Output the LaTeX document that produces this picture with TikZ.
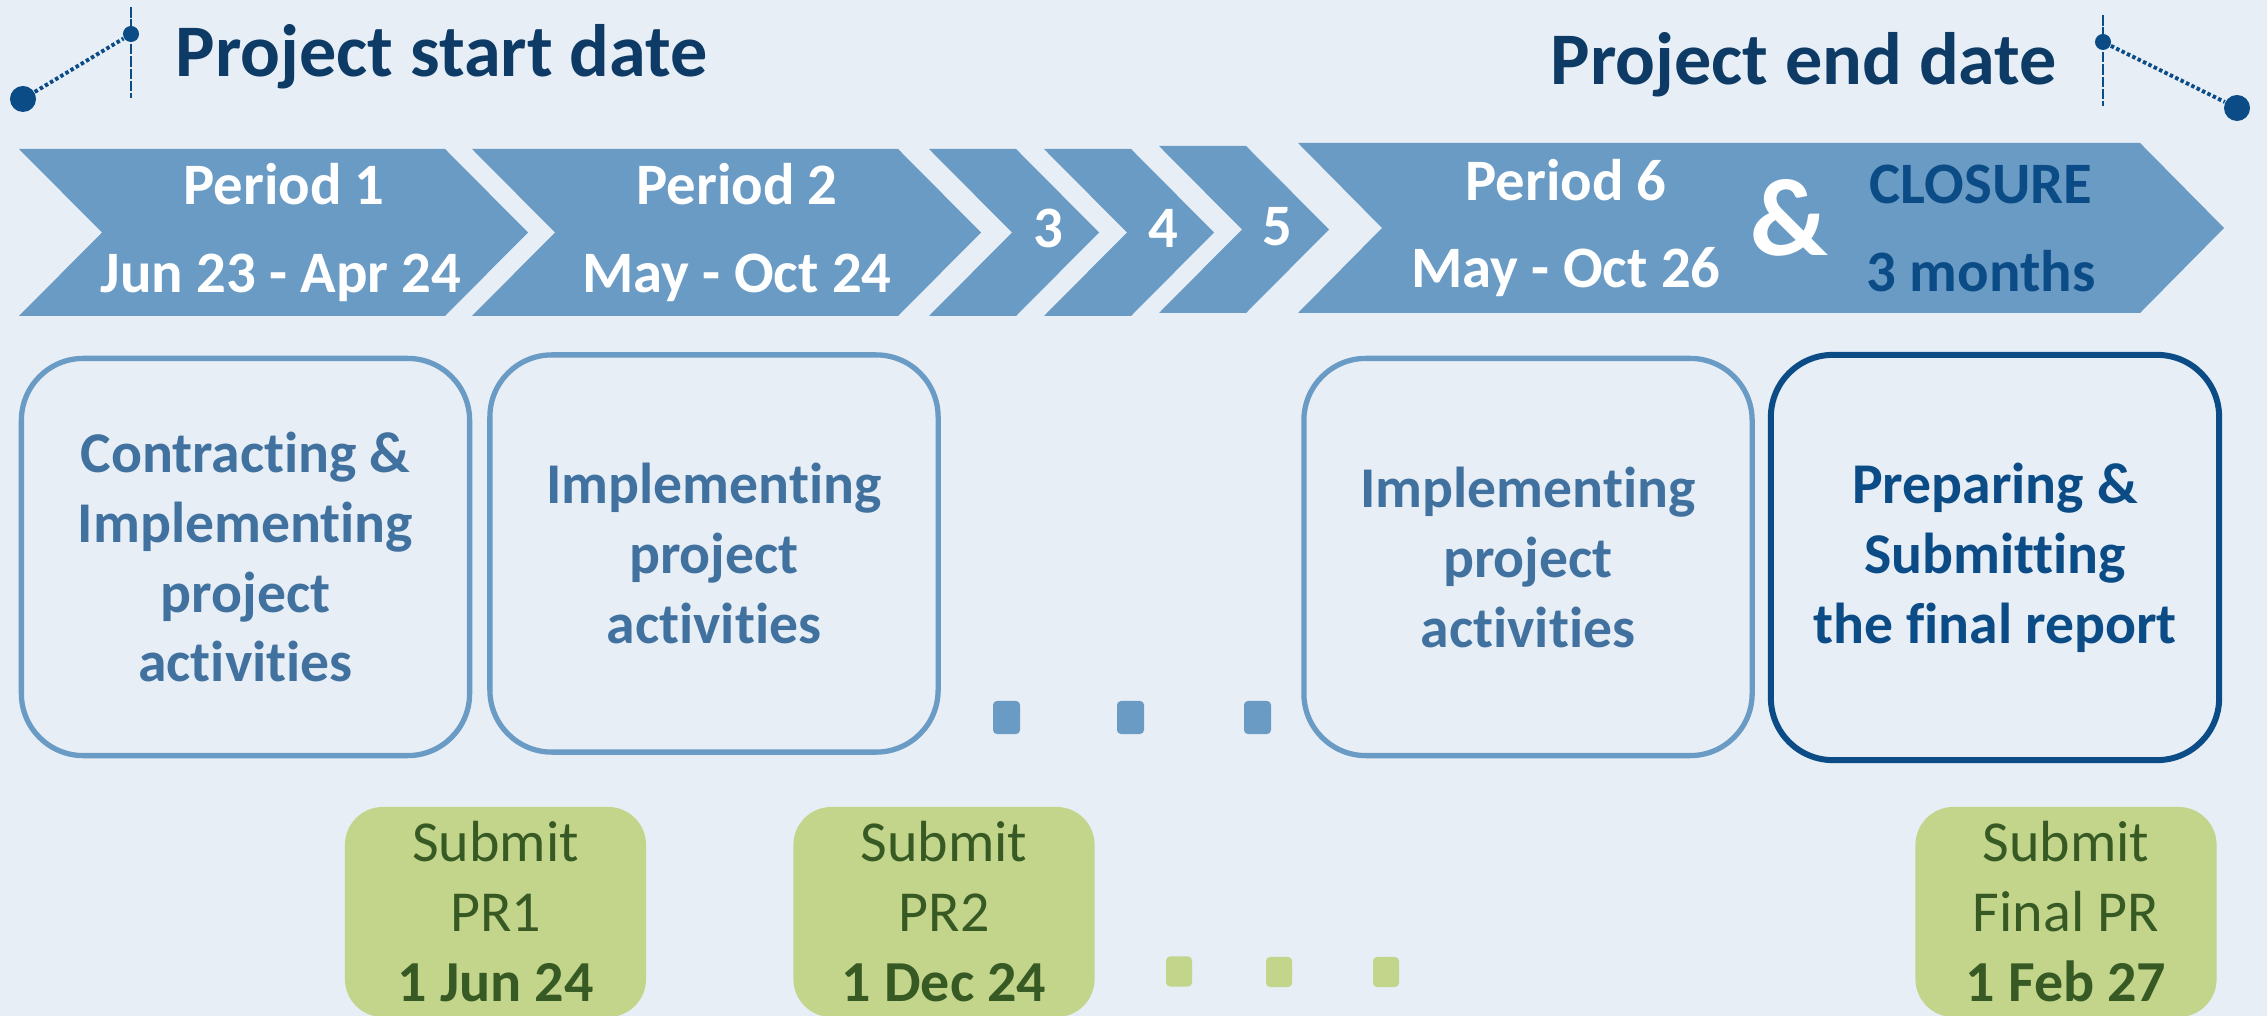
\documentclass[tikz,border=0pt]{standalone}
\usepackage{fontspec}
\setmainfont{Carlito}[Ligatures=NoCommon]
\definecolor{bg}{HTML}{E7EEF6}
\definecolor{chev}{HTML}{6A9BC4}
\definecolor{boxtxt}{HTML}{41729F}
\definecolor{dark}{HTML}{0B4C87}
\definecolor{title}{HTML}{0D3B66}
\definecolor{gfill}{HTML}{C3D58B}
\definecolor{gtxt}{HTML}{375A25}
\newcommand\mychev[5]{\fill[chev] (#1,#3) -- (#2,#3) -- ({#2+#5},{(#3+#4)/2}) -- (#2,#4) -- (#1,#4) -- ({#1+#5},{(#3+#4)/2}) -- cycle;}
\begin{document}
\begin{tikzpicture}[x=0.01cm,y=-0.01cm,
  ttext/.style={text=title,font=\fontsize{21.1}{25}\selectfont\bfseries,inner sep=0,anchor=base west},
  ctext/.style={text=white,font=\fontsize{16.7}{20}\selectfont\bfseries,inner sep=0,anchor=base},
  dtext/.style={text=dark,font=\fontsize{16.7}{20}\selectfont\bfseries,inner sep=0,anchor=base},
  lbox/.style={draw=chev,line width=1.5pt,rounded corners=0.62cm,align=center,text=boxtxt,
    font=\fontsize{16.4}{19.9}\selectfont\bfseries,minimum width=4.48cm,minimum height=3.97cm,inner sep=0},
  dbox/.style={lbox,draw=dark,line width=1.7pt,text=dark,minimum height=4.05cm},
  gbox/.style={fill=gfill,rounded corners=0.38cm,align=center,text=gtxt,
    font=\fontsize{16.5}{19.9}\selectfont,minimum width=3.01cm,minimum height=2.10cm,inner sep=0},
  bsq/.style={fill=chev,rounded corners=0.04cm,minimum width=0.27cm,minimum height=0.33cm,inner sep=0},
  gsq/.style={fill=gfill,rounded corners=0.04cm,minimum width=0.26cm,minimum height=0.30cm,inner sep=0},
  bigdot/.style={circle,fill=dark,inner sep=0,minimum size=0.26cm},
  smalldot/.style={circle,fill=dark,inner sep=0,minimum size=0.16cm},
  vline/.style={draw=dark,line width=0.6pt,dash pattern=on 3pt off 0.5pt},
  dotline/.style={draw=dark,line width=1.1pt,dash pattern=on 1pt off 0.7pt}]
\useasboundingbox (0,0) rectangle (2267,1016);
\fill[bg] (0,0) rectangle (2267,1016);
\clip (0,0) rectangle (2267,1016);

% titles and icons
\node[ttext] (t1) at (175,77) {Project start date};
\node[ttext] (t2) at (1550,85) {Project end date};
\coordinate (sv1) at (131,7); \coordinate (sv2) at (131,98);
\draw[vline] (sv1) -- (sv2);
\node[bigdot] (sd1) at (23,99) {};
\node[smalldot] (sd2) at (131,34) {};
\draw[dotline] (sd1) -- (sd2);
\coordinate (ev1) at (2103,15); \coordinate (ev2) at (2103,106);
\draw[vline] (ev1) -- (ev2);
\node[smalldot] (ed2) at (2103,42) {};
\node[bigdot] (ed1) at (2237,108) {};
\draw[dotline] (ed2) -- (ed1);

% chevrons
\mychev{19}{445}{149}{316}{83}
\mychev{472}{898}{149}{316}{83}
\mychev{929}{1016}{149}{316}{83}
\mychev{1044}{1131}{149}{316}{83}
\mychev{1159}{1246}{146}{313}{83}
\mychev{1298}{2140}{143}{313}{84}

\node[ctext] (p1a) at (284,205) {Period 1};
\node[ctext] (p1b) at (281,293) {Jun 23 - Apr 24};
\node[ctext] (p2a) at (737,205) {Period 2};
\node[ctext] (p2b) at (737,293) {May - Oct 24};
\node[ctext] (p3) at (1048,248) {3};
\node[ctext] (p4) at (1163,248) {4};
\node[ctext] (p5) at (1277,246) {5};
\node[ctext] (p6a) at (1566,201) {Period 6};
\node[ctext] (p6b) at (1566,288) {May - Oct 26};
\node[ctext,font=\fontsize{31.3}{36}\selectfont\bfseries] (amp) at (1789,256) {\&};
\node[dtext] (cl1) at (1981,204) {CLOSURE};
\node[dtext] (cl2) at (1981,292) {3 months};

% activity boxes
\node[lbox] (b1) at (245.5,557) {Contracting \&\\Implementing\\project\\activities};
\node[lbox] (b2) at (714,553.5) {Implementing\\project\\activities};
\node[lbox] (b3) at (1528,557) {Implementing\\project\\activities};
\node[dbox] (b4) at (1995,557.5) {Preparing \&\\Submitting\\the final report};

\node[bsq] (q1) at (1006.5,717.5) {};
\node[bsq] (q2) at (1130.5,717.5) {};
\node[bsq] (q3) at (1257.5,717.5) {};

% report boxes
\node[gbox] (g1) at (495.5,912) {Submit\\PR1\\\textbf{1 Jun 24}};
\node[gbox] (g2) at (944,912) {Submit\\PR2\\\textbf{1 Dec 24}};
\node[gbox] (g3) at (2066,912) {Submit\\Final PR\\\textbf{1 Feb 27}};

\node[gsq] (s1) at (1179,971.5) {};
\node[gsq] (s2) at (1279,972) {};
\node[gsq] (s3) at (1386,972) {};
\end{tikzpicture}
\end{document}
